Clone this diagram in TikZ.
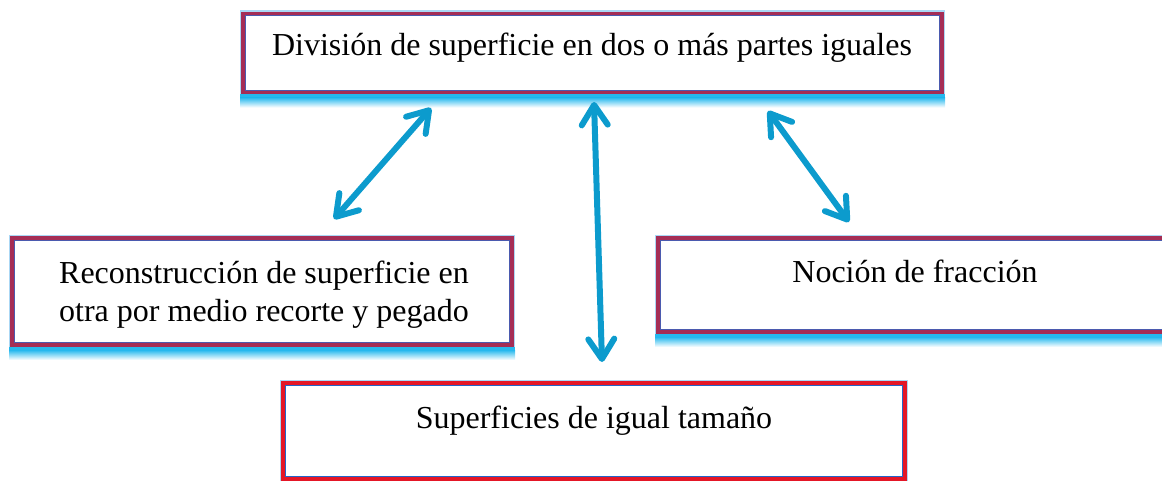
\documentclass[tikz,border=0pt]{standalone}
\usepackage{fontspec}
\setmainfont{Liberation Serif}
\usetikzlibrary{arrows.meta,backgrounds}
\definecolor{boxred}{RGB}{165,45,85}
\definecolor{boxblue}{RGB}{75,90,175}
\definecolor{brightred}{RGB}{228,22,38}
\definecolor{brightblue}{RGB}{35,100,200}
\definecolor{halo}{RGB}{170,215,245}
\definecolor{glowc}{RGB}{0,172,235}
\definecolor{arrowc}{RGB}{12,155,205}
\tikzset{
  boxnode/.style={rectangle, draw=boxred, line width=3.5pt, fill=white,
    inner sep=0pt, outer sep=0pt, preaction={draw=halo, line width=6pt}},
  redbox/.style={boxnode, draw=brightred},
  txt/.style={inner sep=0pt, font=\fontsize{32}{38}\selectfont, align=center},
  glow/.style={top color=glowc, bottom color=white},
  conn/.style={draw=arrowc, line width=6pt, line cap=round,
    {Straight Barb[length=20pt,width=26pt,round]}-{Straight Barb[length=20pt,width=26pt,round]}}
}
\begin{document}
\begin{tikzpicture}[x=1pt,y=-1pt]
\useasboundingbox (0,0) rectangle (1162,481);
% boxes
\node[boxnode, minimum width=699pt, minimum height=79pt] (top) at (592.5,53) {};
\node[boxnode, minimum width=500pt, minimum height=107pt] (left) at (262,291.5) {};
\node[boxnode, minimum width=514pt, minimum height=94pt] (right) at (915,285) {};
\node[redbox, minimum width=622pt, minimum height=96pt] (bottom) at (594,431) {};
% inner blue lines
\foreach \b/\c in {top/boxblue,left/boxblue,right/boxblue,bottom/brightblue}{
  \draw[\c, line width=1.2pt] ([shift={(2.2pt,-2.2pt)}]\b.north west) rectangle ([shift={(-2.2pt,2.2pt)}]\b.south east);
}
% glows below the boxes
\foreach \b in {top,left,right,bottom}{
  \fill[glowc!85] ([shift={(-3pt,-1.75pt)}]\b.south west) rectangle ([shift={(3pt,-5pt)}]\b.south east);
  \shade[glow, top color=glowc!85] ([shift={(-3pt,-5pt)}]\b.south west) rectangle ([shift={(3pt,-15pt)}]\b.south east);
}
% texts
\node[txt, anchor=base] (topT) at (592,56) {División de superficie en dos o más partes iguales};
\node[txt, anchor=base] (leftT) at (264,321) {Reconstrucción de superficie en\\otra por medio recorte y pegado};
\node[txt, anchor=base] (rightT) at (915,282) {Noción de fracción};
\node[txt, anchor=base] (bottomT) at (594,428) {Superficies de igual tamaño};
% arrow end points
\coordinate (a1t) at (431,108);
\coordinate (a1b) at (334,219);
\coordinate (a2t) at (594,102);
\coordinate (a2b) at (602,362);
\coordinate (a3t) at (768,111);
\coordinate (a3b) at (849,222);
\draw[conn] (a1t) -- (a1b);
\draw[conn] (a2t) -- (a2b);
\draw[conn] (a3t) -- (a3b);
\end{tikzpicture}
\end{document}
